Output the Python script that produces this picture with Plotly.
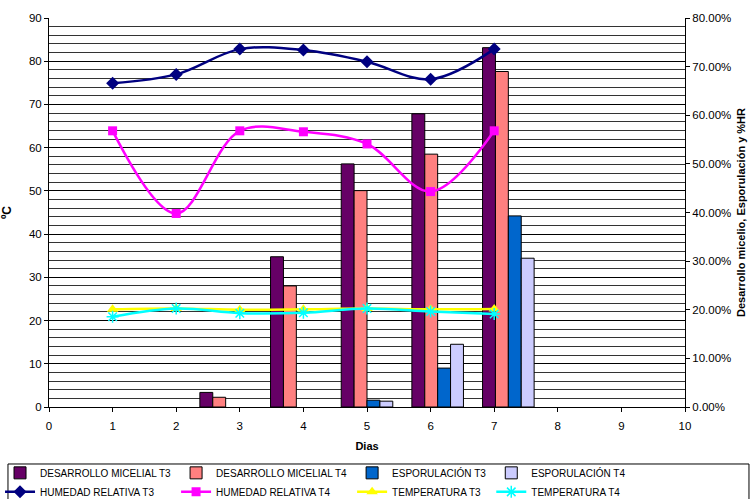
import plotly.graph_objects as go

# Days on the numeric x axis (0-10)
days = [1, 2, 3, 4, 5, 6, 7]

# Relative humidity (fraction, right axis)
hr_t3 = [0.666, 0.684, 0.736, 0.734, 0.710, 0.674, 0.736]
hr_t4 = [0.568, 0.398, 0.568, 0.566, 0.541, 0.443, 0.568]

# Temperature in ºC (left axis)
temp_t3 = [22.6, 22.8, 22.5, 22.6, 22.8, 22.6, 22.7]
temp_t4 = [20.9, 22.8, 21.7, 21.8, 22.8, 22.1, 21.5]

# Bar categories (1..9 on the hidden category axis) and values (fraction)
bar_cats = [3, 4, 5, 6, 7]
micelial_t3 = [0.030, 0.309, 0.500, 0.603, 0.739]
micelial_t4 = [0.020, 0.249, 0.445, 0.520, 0.690]
espor_t3 = [None, None, 0.014, 0.080, 0.393]
espor_t4 = [None, None, 0.012, 0.129, 0.306]

x_ticks = list(range(0, 11))

FONT = "Liberation Sans, Arial, sans-serif"

fig = go.Figure()

bar_specs = [
    ("DESARROLLO MICELIAL T3", micelial_t3, "#660066", "a"),
    ("DESARROLLO MICELIAL T4", micelial_t4, "#FF8080", "b"),
    ("ESPORULACIÓN T3", espor_t3, "#0066CC", "c"),
    ("ESPORULACIÓN T4", espor_t4, "#CCCCFF", "d"),
]
for name, vals, color, grp in bar_specs:
    fig.add_trace(go.Bar(
        x=bar_cats, y=vals, name=name, legendgroup=grp,
        marker=dict(color=color, line=dict(color="#000000", width=1)),
        xaxis="x", yaxis="y",
    ))

fig.add_trace(go.Scatter(
    x=days, y=hr_t3, name="HUMEDAD RELATIVA T3", legendgroup="a",
    mode="lines+markers", line=dict(color="#000080", width=2.5, shape="spline", smoothing=1),
    marker=dict(symbol="diamond", size=10, color="#000080"),
    xaxis="x2", yaxis="y",
))
fig.add_trace(go.Scatter(
    x=days, y=hr_t4, name="HUMEDAD RELATIVA T4", legendgroup="b",
    mode="lines+markers", line=dict(color="#FF00FF", width=2.5, shape="spline", smoothing=1),
    marker=dict(symbol="square", size=9, color="#FF00FF"),
    xaxis="x2", yaxis="y",
))
fig.add_trace(go.Scatter(
    x=days, y=temp_t3, name="TEMPERATURA T3", legendgroup="c",
    mode="lines+markers", line=dict(color="#FFFF00", width=2.5, shape="spline", smoothing=1),
    marker=dict(symbol="triangle-up", size=10, color="#FFFF00"),
    xaxis="x2", yaxis="y2",
))
fig.add_trace(go.Scatter(
    x=days, y=temp_t4, name="TEMPERATURA T4", legendgroup="d",
    mode="lines+markers", line=dict(color="#00FFFF", width=2.5, shape="spline", smoothing=1),
    marker=dict(symbol="asterisk", size=10, color="#00FFFF",
                line=dict(color="#00FFFF", width=1.5)),
    xaxis="x2", yaxis="y2",
))

fig.update_layout(
    width=750, height=499,
    margin=dict(l=49, r=65, t=18, b=92, autoexpand=False),
    paper_bgcolor="white", plot_bgcolor="white",
    font=dict(family=FONT, size=11.5, color="#000000"),
    barmode="group", bargap=0.27, bargroupgap=0,
    showlegend=True,
    legend=dict(
        orientation="h", traceorder="grouped", tracegroupgap=0,
        x=-0.077, xanchor="left", y=-0.132, yanchor="top",
        font=dict(family=FONT, size=10),
        itemwidth=30,
        bgcolor="rgba(0,0,0,0)", borderwidth=0,
    ),
    xaxis=dict(range=[0.5, 9.5], visible=False, fixedrange=True),
    xaxis2=dict(
        overlaying="x", side="bottom", anchor="y",
        range=[0, 10], tickvals=x_ticks, ticks="outside", ticklen=4,
        ticklabelstandoff=4,
        tickcolor="#000000", showline=True, linecolor="#000000", linewidth=1,
        showgrid=False, zeroline=False,
        title=dict(text="<b>Dias</b>", font=dict(size=11), standoff=11),
    ),
    yaxis=dict(
        side="right", anchor="x", range=[0, 0.8], dtick=0.1, tickformat=".2%",
        ticks="outside", ticklen=4, tickcolor="#000000",
        showline=True, linecolor="#000000", linewidth=1,
        showgrid=False, zeroline=False,
        title=dict(text="<b>Desarrollo micelio, Esporulación y %HR</b>",
                   font=dict(size=11), standoff=6),
    ),
    yaxis2=dict(
        overlaying="y", side="left", anchor="x2", range=[0, 90], dtick=10,
        ticks="outside", ticklen=4, tickcolor="#000000",
        showline=True, linecolor="#000000", linewidth=1,
        showgrid=True, gridcolor="#000000", gridwidth=1, zeroline=False,
        minor=dict(dtick=2, showgrid=True, gridcolor="#333333", gridwidth=1),
        title=dict(text="<b>ºC</b>", font=dict(size=12), standoff=14),
    ),
    shapes=[dict(
        type="rect", xref="paper", yref="paper",
        x0=-0.0645, x1=1.1006, y0=-0.265, y1=-0.1465,
        line=dict(color="#000000", width=1), fillcolor="rgba(0,0,0,0)",
    )],
)

fig.write_html("out.html")
